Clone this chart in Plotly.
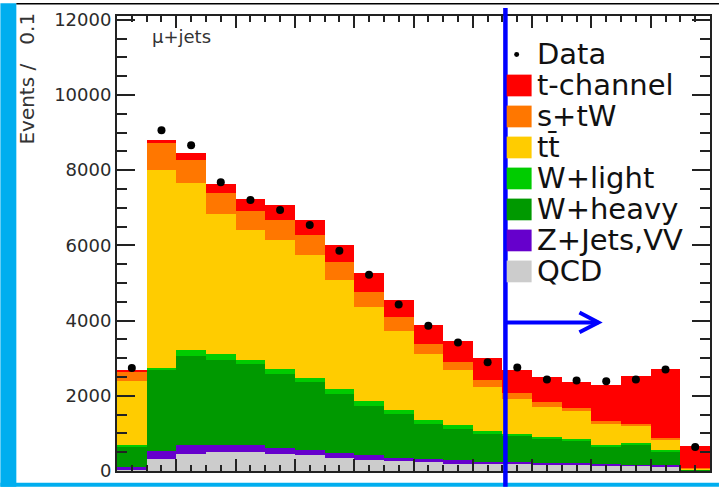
import plotly.graph_objects as go

# ---------------- data ----------------
bin_centers = [0.05 + 0.1 * i for i in range(20)]
bin_width = 0.1

qcd       = [20, 318, 450, 500, 500, 450, 420, 345, 290, 260, 240, 185, 185, 185, 170, 160, 150, 140, 120, 10]
z_jets_vv = [90, 212, 240, 190, 190, 160, 135, 135, 130, 85, 75, 105, 55, 55, 40, 40, 30, 30, 30, 10]
w_heavy   = [550, 2145, 2380, 2250, 2145, 1960, 1805, 1560, 1300, 1165, 930, 825, 740, 710, 660, 620, 480, 540, 380, 20]
w_light   = [20, 75, 160, 160, 130, 130, 105, 130, 135, 105, 105, 105, 80, 40, 30, 30, 30, 30, 25, 10]
ttbar     = [1705, 5250, 4430, 3740, 3445, 3450, 3285, 2900, 2515, 2120, 1750, 1455, 1165, 930, 795, 750, 570, 460, 285, 10]
s_tw      = [265, 720, 610, 550, 510, 530, 530, 500, 400, 355, 290, 215, 185, 155, 135, 80, 70, 60, 50, 10]
t_channel = [10, 80, 180, 240, 310, 400, 400, 445, 500, 465, 505, 580, 585, 615, 660, 700, 950, 1255, 1810, 590]
data      = [2740, 9060, 8660, 7680, 7210, 6940, 6540, 5855, 5220, 4425, 3865, 3420, 2890, 2755, 2430, 2410, 2390, 2435, 2700, 635]

process_names  = ["QCD", "Z+Jets,VV", "W+heavy", "W+light", "tt\u0304", "s+tW", "t-channel"]
process_values = [qcd, z_jets_vv, w_heavy, w_light, ttbar, s_tw, t_channel]
process_colors = ["#cccccc", "#6600cc", "#009900", "#00cc00", "#ffcc00", "#ff7700", "#ff0000"]

legend_labels = ["Data", "t-channel", "s+tW", "tt\u0304", "W+light", "W+heavy", "Z+Jets,VV", "QCD"]
legend_colors = [None, "#ff0000", "#ff7700", "#ffcc00", "#00cc00", "#009900", "#6600cc", "#cccccc"]

x_range = [0, 2]
y_range = [0, 12100]
cut_value = 1.31          # position of the blue vertical cut line
arrow_level = 3950        # height of the arrow
channel_label = "\u03bc+jets"
y_title = "Events\u00a0/\u00a0\u00a0\u00a00.1"

# ---------------- figure ----------------
W, H = 721, 490
L, R, T, B = 117, 9, 13, 16
pw, ph = W - L - R, H - T - B

def px(X):
    return (X - L) / pw

def py(Y):
    return (H - B - Y) / ph

fig = go.Figure()
for name, vals, col in zip(process_names, process_values, process_colors):
    fig.add_trace(go.Bar(x=bin_centers, y=vals, width=bin_width, name=name,
                         marker=dict(color=col, line=dict(width=0)), showlegend=False))

fig.add_trace(go.Scatter(x=bin_centers, y=data, mode="markers", name="Data",
                         marker=dict(color="black", size=8), showlegend=False))

axis_common = dict(showline=True, linecolor="#222", linewidth=2, mirror="allticks",
                   ticks="inside", tickcolor="#222", tickwidth=2, showgrid=False, zeroline=False)

fig.update_xaxes(range=x_range, dtick=0.2, tick0=0, ticklen=12, showticklabels=False,
                 minor=dict(dtick=0.05, ticklen=6, ticks="inside", tickcolor="#222", tickwidth=2),
                 **axis_common)
fig.update_yaxes(range=y_range, dtick=2000, tick0=0, ticklen=18, tickformat="d",
                 tickfont=dict(family="DejaVu Sans", size=18, color="#2b2b2b"),
                 minor=dict(dtick=500, ticklen=10, ticks="inside", tickcolor="#222", tickwidth=2),
                 **axis_common)

shapes = []
annotations = []

# frame decorations: cyan border strips and top black line
shapes.append(dict(type="rect", xref="paper", yref="paper", x0=px(0), x1=px(16), y0=py(H), y1=py(0),
                   fillcolor="#00aeef", line=dict(width=0), layer="above"))
shapes.append(dict(type="rect", xref="paper", yref="paper", x0=px(0), x1=px(W), y0=py(H), y1=py(486),
                   fillcolor="#00aeef", line=dict(width=0), layer="above"))
shapes.append(dict(type="line", xref="paper", yref="paper", x0=px(16), x1=px(W), y0=py(0.5), y1=py(0.5),
                   line=dict(color="black", width=1.5)))

# blue cut line and arrow
xc = (cut_value - x_range[0]) / (x_range[1] - x_range[0])
shapes.append(dict(type="line", xref="paper", yref="paper", x0=xc, x1=xc, y0=py(H), y1=py(5),
                   line=dict(color="#0000ff", width=4.5), layer="above"))
ya = arrow_level / y_range[1]
tip = px(600)
shapes.append(dict(type="line", xref="paper", yref="paper", x0=xc, x1=tip, y0=ya, y1=ya,
                   line=dict(color="#0000ff", width=4), layer="above"))
shapes.append(dict(type="path", xref="paper", yref="paper",
                   path=f"M {px(581)},{ya + 10/ph} L {tip},{ya} L {px(581)},{ya - 10/ph}",
                   line=dict(color="#0000ff", width=4), layer="above"))

# manual legend
row0, dy = 52, 31.4
for k, (lab, col) in enumerate(zip(legend_labels, legend_colors)):
    c = row0 + dy * k
    if col is None:
        shapes.append(dict(type="circle", xref="paper", yref="paper",
                           x0=px(515.5), x1=px(520.5), y0=py(c + 2.5), y1=py(c - 2.5),
                           fillcolor="black", line=dict(width=0)))
    else:
        shapes.append(dict(type="rect", xref="paper", yref="paper",
                           x0=px(508), x1=px(533), y0=py(c + 11), y1=py(c - 11),
                           fillcolor=col, line=dict(width=0), layer="above"))
    annotations.append(dict(text=lab, xref="paper", yref="paper", x=px(536), y=py(c),
                            xanchor="left", yanchor="middle", showarrow=False,
                            font=dict(family="DejaVu Sans", size=29, color="#111")))

annotations.append(dict(text=channel_label, xref="paper", yref="paper", x=px(182), y=py(34),
                        xanchor="center", yanchor="middle", showarrow=False,
                        font=dict(family="DejaVu Sans", size=18, color="#333")))
annotations.append(dict(text=y_title, xref="paper", yref="paper", x=px(27), y=py(145),
                        xanchor="center", yanchor="bottom", textangle=-90, showarrow=False,
                        font=dict(family="DejaVu Sans", size=20, color="#333")))

fig.update_layout(width=W, height=H, margin=dict(l=L, r=R, t=T, b=B, pad=0),
                  barmode="stack", bargap=0, paper_bgcolor="white", plot_bgcolor="white",
                  shapes=shapes, annotations=annotations, showlegend=False)

fig.write_html("out.html")
